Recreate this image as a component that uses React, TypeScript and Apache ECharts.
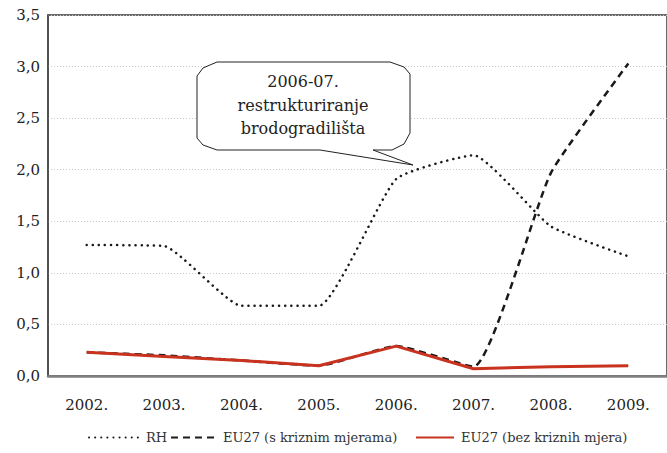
import React, { useEffect, useRef } from "react";
import * as echarts from "echarts";

const categories = ["2002.", "2003.", "2004.", "2005.", "2006.", "2007.", "2008.", "2009."];
const rhValues = [1.27, 1.26, 0.68, 0.68, 1.91, 2.14, 1.45, 1.16];
const euCrisisValues = [0.23, 0.2, 0.15, 0.1, 0.29, 0.09, 1.97, 3.03];
const euNoCrisisValues = [0.23, 0.19, 0.15, 0.1, 0.29, 0.07, 0.09, 0.1];
const seriesNames = ["RH", "EU27 (s kriznim mjerama)", "EU27 (bez kriznih mjera)"];
const calloutLines = ["2006-07.", "restrukturiranje", "brodogradilišta"];

const FONT = "DejaVu Serif";

const legendBase = {
  top: 431,
  itemHeight: 14,
  itemGap: 8,
  padding: 0,
  itemStyle: { color: "rgba(0,0,0,0)", borderColor: "rgba(0,0,0,0)", borderWidth: 0, opacity: 0 },
  textStyle: { fontFamily: FONT, fontSize: 13, color: "#333", padding: [0, 0, 0, 2] },
};

export default function App() {
  const ref = useRef<HTMLDivElement>(null);
  useEffect(() => {
    document.body.style.margin = "0";
    if (!ref.current) return;
    const chart = echarts.init(ref.current, undefined, { renderer: "svg" });
    chart.setOption({
      animation: false,
      backgroundColor: "#ffffff",
      textStyle: { fontFamily: FONT },
      grid: {
        left: 48,
        top: 15,
        right: -3,
        bottom: 77,
        show: true,
        borderColor: "#3a3a3a",
        borderWidth: 1.5,
      },
      legend: [
        { ...legendBase, left: 88, itemWidth: 50, data: [seriesNames[0]] },
        { ...legendBase, left: 170, itemWidth: 45, data: [seriesNames[1]] },
        { ...legendBase, left: 415, itemWidth: 38, data: [seriesNames[2]] },
      ],
      xAxis: {
        type: "category",
        data: categories,
        boundaryGap: true,
        axisLine: { show: true, lineStyle: { color: "#808080", width: 2.5 } },
        axisTick: { show: false },
        axisLabel: { fontFamily: FONT, fontSize: 15, color: "#222", margin: 21 },
        splitLine: { show: false },
      },
      yAxis: {
        type: "value",
        min: 0,
        max: 3.5,
        interval: 0.5,
        axisLine: { show: true, lineStyle: { color: "#4a4a4a", width: 1.5 } },
        axisTick: { show: false },
        axisLabel: {
          fontFamily: FONT,
          fontSize: 15,
          color: "#222",
          margin: 8,
          formatter: (v: number) => v.toFixed(1).replace(".", ","),
        },
        splitLine: { show: true, lineStyle: { color: "#c8c8c8", type: [1, 2], width: 1 } },
      },
      series: [
        {
          name: seriesNames[0],
          type: "line",
          data: rhValues,
          smooth: 0.15,
          symbol: "none",
          lineStyle: { color: "#1a1a1a", width: 2.5, type: [0.1, 6], cap: "round" },
          itemStyle: { color: "#1a1a1a" },
        },
        {
          name: seriesNames[1],
          type: "line",
          data: euCrisisValues,
          smooth: 0.15,
          symbol: "none",
          lineStyle: { color: "#1a1a1a", width: 2.5, type: [7, 5] },
          itemStyle: { color: "#1a1a1a" },
        },
        {
          name: seriesNames[2],
          type: "line",
          data: euNoCrisisValues,
          smooth: false,
          symbol: "none",
          lineStyle: { color: "#c8321e", width: 3 },
          itemStyle: { color: "#c8321e" },
        },
      ],
      graphic: [
        {
          type: "polygon",
          z: 100,
          shape: {
            points: [
              [197, 76],
              [203, 68],
              [217, 62],
              [390, 62],
              [404, 67],
              [410, 74],
              [410, 133],
              [404, 144],
              [392, 150],
              [373, 150],
              [413, 165],
              [320, 150],
              [217, 150],
              [203, 145],
              [197, 138],
            ],
          },
          style: { fill: "#ffffff", stroke: "#222", lineWidth: 1 },
        },
        {
          type: "text",
          z: 101,
          x: 303,
          y: 70,
          style: {
            text: calloutLines.join("\n"),
            align: "center",
            verticalAlign: "top",
            fontFamily: FONT,
            fontSize: 16,
            lineHeight: 23.5,
            fill: "#222",
          },
        },
      ],
    });
    return () => chart.dispose();
  }, []);
  return <div ref={ref} style={{ width: 667, height: 453 }} />;
}
